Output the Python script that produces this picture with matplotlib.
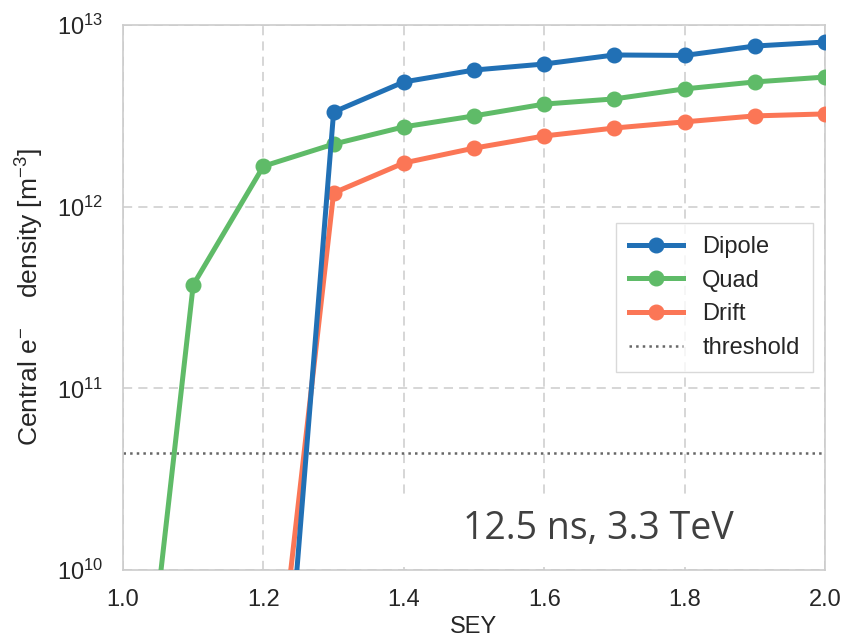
import matplotlib
matplotlib.use("Agg")
import matplotlib.pyplot as plt
from matplotlib.patches import Rectangle
import numpy as np

plt.rcParams['font.family'] = ['Liberation Sans', 'DejaVu Sans']
plt.rcParams['mathtext.fontset'] = 'custom'
plt.rcParams['mathtext.rm'] = 'Liberation Sans'
plt.rcParams['mathtext.it'] = 'Liberation Sans:italic'

sey = [1.0, 1.1, 1.2, 1.3, 1.4, 1.5, 1.6, 1.7, 1.8, 1.9, 2.0]
dipole = [1e6, 1e7, 5e7, 3.32e12, 4.86e12, 5.65e12, 6.1e12, 6.84e12, 6.8e12, 7.66e12, 8.06e12]
quad = [1.4e8, 3.71e11, 1.67e12, 2.21e12, 2.75e12, 3.16e12, 3.67e12, 3.92e12, 4.45e12, 4.86e12, 5.17e12]
drift = [1e6, 1e7, 4.7e8, 1.19e12, 1.74e12, 2.10e12, 2.45e12, 2.71e12, 2.93e12, 3.16e12, 3.24e12]
threshold = 4.4e10

fig = plt.figure(figsize=(8.56, 6.38), dpi=100)
ax = fig.add_axes([0.1437, 0.1066, 0.8201, 0.8542])

ax.plot(sey, dipole, '-o', color='#2170b5', lw=3.6, ms=10.5, label='Dipole', zorder=4)
ax.plot(sey, quad, '-o', color='#5fbb68', lw=3.6, ms=10.5, label='Quad', zorder=3)
ax.plot(sey, drift, '-o', color='#fb7656', lw=3.6, ms=10.5, label='Drift', zorder=3)
ax.axhline(threshold, color='#666666', ls=':', lw=1.8, label='threshold', zorder=2)

ax.set_yscale('log')
ax.set_xlim(1.0, 2.0)
ax.set_ylim(1e10, 1e13)
ax.set_xticks([1.0, 1.2, 1.4, 1.6, 1.8, 2.0])
ax.minorticks_off()
ax.tick_params(labelsize=17, colors='#262626', length=0)
ax.tick_params(axis='x', pad=14)
ax.tick_params(axis='y', pad=14)
ax.grid(True, color='#cccccc', ls=(0, (6, 4)), lw=1.1)
for s in ax.spines.values():
    s.set_color('#cccccc')
    s.set_linewidth(1.2)

ax.set_xlabel('SEY', fontsize=17, color='#262626', labelpad=3)
ax.set_ylabel(r'Central e$^{-}$    density [m$^{-3}$]', fontsize=19, color='#262626', labelpad=8)

leg = ax.legend(loc='center right', bbox_to_anchor=(0.999, 0.50), fontsize=17,
                frameon=True, fancybox=False, handlelength=2.3, borderpad=0.55,
                labelspacing=0.5, handletextpad=0.8)
leg.get_frame().set_edgecolor('#d0d0d0')
leg.get_frame().set_linewidth(1.0)
for t in leg.get_texts():
    t.set_color('#262626')

# annotation box over the lower right corner
ax.add_patch(Rectangle((0.38, 0.005), 0.615, 0.135, transform=ax.transAxes,
                       facecolor='white', edgecolor='none', zorder=2.5))
ax.text(0.677, 0.076, '12.5 ns, 3.3 TeV', transform=ax.transAxes, fontsize=27,
        family=['Open Sans', 'DejaVu Sans'], color='#404040', ha='center', va='center',
        zorder=5)

fig.savefig('out.png', dpi=100)
